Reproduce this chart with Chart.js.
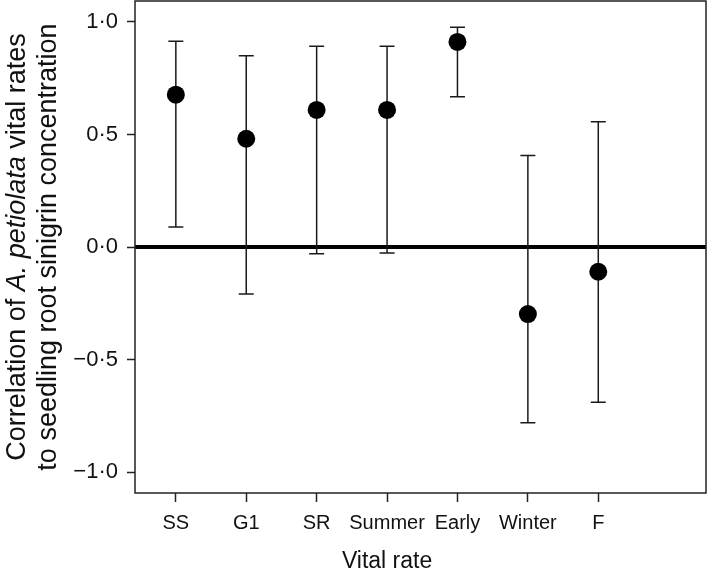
<!DOCTYPE html>
<html><head><meta charset="utf-8">
<script src="https://cdn.jsdelivr.net/npm/chart.js@4/dist/chart.umd.min.js"></script>
<style>html,body{margin:0;padding:0;background:#fff;} #wrap{width:709px;height:576px;position:relative;}</style>
</head><body><div id="wrap"><canvas id="c" width="709" height="576"></canvas></div>
<script>
const categories = ['SS', 'G1', 'SR', 'Summer', 'Early', 'Winter', 'F'];
const correlation = [0.677, 0.481, 0.609, 0.609, 0.911, -0.298, -0.110];
const lowerCI = [0.089, -0.209, -0.030, -0.027, 0.668, -0.781, -0.690];
const upperCI = [0.914, 0.850, 0.892, 0.892, 0.976, 0.406, 0.557];
const yTickValues = [-1, -0.5, 0, 0.5, 1];
const yTickLabels = ['\u22121\u00B70', '\u22120\u00B75', '0\u00B70', '0\u00B75', '1\u00B70'];
const xTitle = 'Vital rate';
const yTitleLine1 = [['Correlation of ', false], ['A. petiolata', true], [' vital rates', false]];
const yTitleLine2 = 'to seedling root sinigrin concentration';

const FONT = '"Liberation Sans", Arial, Helvetica, sans-serif';
const INK = '#111';

const decor = {
  id: 'decor',
  beforeDatasetsDraw(chart) {
    const {ctx, chartArea: a, scales: {x, y}} = chart;
    ctx.save();
    const y0 = y.getPixelForValue(0);
    ctx.strokeStyle = '#000';
    ctx.lineWidth = 4;
    ctx.beginPath(); ctx.moveTo(a.left, y0); ctx.lineTo(a.right, y0); ctx.stroke();
    ctx.strokeStyle = '#1a1a1a';
    ctx.lineWidth = 1.5;
    for (let i = 0; i < categories.length; i++) {
      const px = x.getPixelForValue(i);
      const lo = y.getPixelForValue(lowerCI[i]);
      const hi = y.getPixelForValue(upperCI[i]);
      ctx.beginPath();
      ctx.moveTo(px, lo); ctx.lineTo(px, hi);
      ctx.moveTo(px - 7.5, lo); ctx.lineTo(px + 7.5, lo);
      ctx.moveTo(px - 7.5, hi); ctx.lineTo(px + 7.5, hi);
      ctx.stroke();
    }
    ctx.restore();
  },
  afterDraw(chart) {
    const {ctx, chartArea: a, scales: {x}} = chart;
    ctx.save();
    ctx.strokeStyle = '#222';
    ctx.lineWidth = 1.5;
    ctx.strokeRect(a.left, a.top, a.right - a.left, a.bottom - a.top);
    ctx.fillStyle = INK;
    ctx.font = '23px ' + FONT;
    ctx.textAlign = 'center';
    ctx.textBaseline = 'alphabetic';
    ctx.fillText(xTitle, x.getPixelForValue(3), 568);
    const cy = (a.top + a.bottom) / 2;
    ctx.translate(0, cy);
    ctx.rotate(-Math.PI / 2);
    const fs = 27;
    let total = 0;
    for (const [t, it] of yTitleLine1) {
      ctx.font = (it ? 'italic ' : '') + fs + 'px ' + FONT;
      total += ctx.measureText(t).width;
    }
    ctx.textAlign = 'left';
    let pos = -total / 2;
    for (const [t, it] of yTitleLine1) {
      ctx.font = (it ? 'italic ' : '') + fs + 'px ' + FONT;
      ctx.fillText(t, pos, 25);
      pos += ctx.measureText(t).width;
    }
    ctx.font = fs + 'px ' + FONT;
    ctx.textAlign = 'center';
    ctx.fillText(yTitleLine2, 0, 56);
    ctx.restore();
  }
};

new Chart(document.getElementById('c'), {
  type: 'scatter',
  data: {
    datasets: [{
      data: categories.map((c, i) => ({x: i, y: correlation[i]})),
      pointRadius: 9,
      pointHoverRadius: 9,
      backgroundColor: '#000',
      borderWidth: 0
    }]
  },
  options: {
    responsive: false,
    animation: false,
    layout: {autoPadding: false, padding: {left: 0, top: 1, right: 3, bottom: 0}},
    plugins: {legend: {display: false}, tooltip: {enabled: false}},
    scales: {
      x: {
        type: 'linear',
        min: -0.58, max: 7.53,
        afterBuildTicks(s) { s.ticks = categories.map((c, i) => ({value: i})); },
        afterFit(s) { s.height = 83; s.paddingLeft = 0; s.paddingRight = 0; },
        border: {display: false},
        grid: {display: true, drawOnChartArea: false, drawTicks: true, tickLength: 9, tickColor: '#222', tickWidth: 1.5},
        ticks: {
          autoSkip: false, maxRotation: 0, padding: 9, color: INK,
          font: {family: FONT, size: 20},
          callback: (v) => categories[v]
        }
      },
      y: {
        min: -1.093, max: 1.093,
        afterBuildTicks(s) { s.ticks = yTickValues.map(v => ({value: v})); },
        afterFit(s) { s.width = 135; s.paddingTop = 0; s.paddingBottom = 0; },
        border: {display: false},
        grid: {display: true, drawOnChartArea: false, drawTicks: true, tickLength: 8, tickColor: '#222', tickWidth: 1.5},
        ticks: {
          padding: 9, color: INK,
          font: {family: FONT, size: 22},
          callback: (v) => yTickLabels[yTickValues.indexOf(v)]
        }
      }
    }
  },
  plugins: [decor]
});
</script>
</body></html>
